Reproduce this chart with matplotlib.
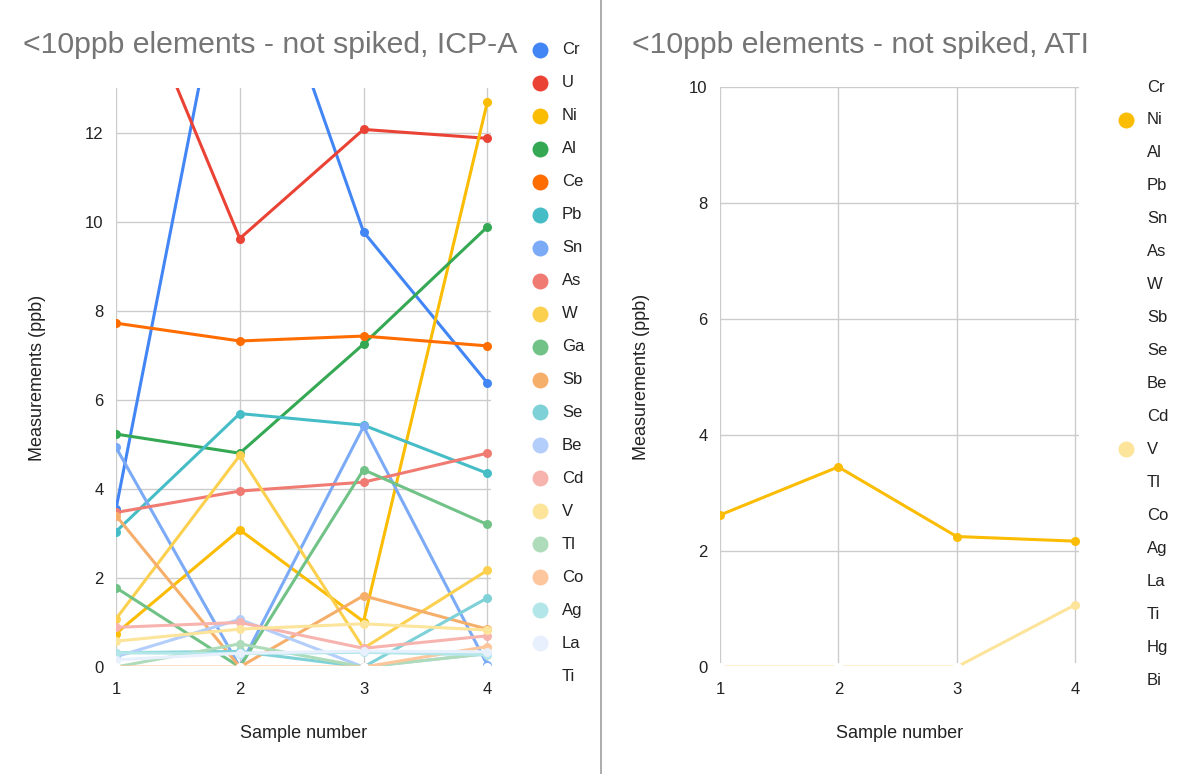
import matplotlib
matplotlib.use("Agg")
import matplotlib.pyplot as plt
from matplotlib.lines import Line2D

plt.rcParams['font.family'] = ['Liberation Sans', 'DejaVu Sans']

samples = [1, 2, 3, 4]

# ---- Left chart (ICP-A) ----
left_names = ["Cr", "U", "Ni", "Al", "Ce", "Pb", "Sn", "As", "W", "Ga",
              "Sb", "Se", "Be", "Cd", "V", "Tl", "Co", "Ag", "La", "Ti"]
Cr = [3.55, 17.7, 9.77, 6.38]
U = [16.3, 9.62, 12.07, 11.87]
Ni = [0.75, 3.08, 1.02, 12.68]
Al = [5.23, 4.80, 7.25, 9.88]
Ce = [7.72, 7.32, 7.43, 7.21]
Pb = [3.04, 5.69, 5.43, 4.35]
Sn = [4.93, 0.0, 5.40, 0.05]
As = [3.47, 3.95, 4.15, 4.80]
W = [1.08, 4.75, 0.42, 2.17]
Ga = [1.78, 0.0, 4.43, 3.20]
Sb = [3.40, 0.0, 1.60, 0.85]
Se = [0.32, 0.35, 0.0, 1.55]
Be = [0.23, 1.07, 0.0, 0.30]
Cd = [0.89, 1.00, 0.42, 0.70]
V = [0.58, 0.85, 0.97, 0.83]
Tl = [0.0, 0.52, 0.0, 0.30]
Co = [0.0, 0.0, 0.0, 0.46]
Ag = [0.32, 0.30, 0.33, 0.27]
La = [0.16, 0.31, 0.36, 0.34]
Ti = [0.0, 0.0, 0.0, 0.0]
left_values = [Cr, U, Ni, Al, Ce, Pb, Sn, As, W, Ga, Sb, Se, Be, Cd, V, Tl, Co, Ag, La, Ti]
left_colors = ["#4285F4", "#EA4335", "#FBBC04", "#34A853", "#FF6D01", "#46BDC6",
               "#7BAAF7", "#F07B72", "#FCD04F", "#71C287", "#F6AE6B", "#7ED1D7",
               "#B3CEFB", "#F7B4AE", "#FDE49B", "#AEDCBA", "#FDC69C", "#B2E6E9",
               "#E8F0FE", "#FFFFFF"]

# ---- Right chart (ATI) ----
right_names = ["Cr", "Ni", "Al", "Pb", "Sn", "As", "W", "Sb", "Se", "Be",
               "Cd", "V", "Tl", "Co", "Ag", "La", "Ti", "Hg", "Bi"]
Ni_ati = [2.62, 3.45, 2.25, 2.17]
V_ati = [0.0, 0.0, 0.0, 1.07]
zero_ati = [0.0, 0.0, 0.0, 0.0]
right_values = [Ni_ati if n == "Ni" else V_ati if n == "V" else zero_ati for n in right_names]
right_colors = ["#FBBC04" if n == "Ni" else "#FDE49B" if n == "V" else "#FFFFFF"
                for n in right_names]

W_PX, H_PX = 1200, 774
fig = plt.figure(figsize=(12, 7.74), dpi=100)


def fx(px):
    return px / W_PX


def fy(py):
    return 1 - py / H_PX


def setup(ax, ymax, yticks):
    ax.set_xlim(1, 4.03)
    ax.set_ylim(0, ymax)
    ax.set_xticks(samples)
    ax.set_yticks(yticks)
    for s in ax.spines.values():
        s.set_visible(False)
    ax.grid(True, color="#cccccc", linewidth=1.0)
    ax.set_axisbelow(True)
    ax.tick_params(length=0, labelsize=12, colors="#222222", pad=9)
    ax.tick_params(axis='x', pad=11)
    ax.set_xlabel("Sample number", fontsize=13, color="#222222", labelpad=20)
    ax.set_ylabel("Measurements (ppb)", fontsize=13, color="#222222", labelpad=28)


# left axes
axL = fig.add_axes([fx(116), fy(667), fx(491) - fx(116), fy(88) - fy(667)])
setup(axL, 13, [0, 2, 4, 6, 8, 10, 12])
for vals, c in zip(left_values, left_colors):
    axL.plot(samples, vals, color=c, lw=2.2, marker='o', ms=6.5,
             markeredgewidth=0, solid_capstyle='round')

# right axes
axR = fig.add_axes([fx(720), fy(667), fx(1078.5) - fx(720), fy(87) - fy(667)])
setup(axR, 10, [0, 2, 4, 6, 8, 10])
for vals, c in zip(right_values, right_colors):
    axR.plot(samples, vals, color=c, lw=2.2, marker='o', ms=6.5,
             markeredgewidth=0, solid_capstyle='round')

# titles
fig.text(fx(23), fy(45), "<10ppb elements - not spiked, ICP-A", fontsize=21.8,
         color="#757575", va='center', ha='left')
fig.text(fx(632), fy(45), "<10ppb elements - not spiked, ATI", fontsize=21.8,
         color="#757575", va='center', ha='left')

# legends
def legend(names, colors, x_marker, x_text, y0, dy):
    for i, (n, c) in enumerate(zip(names, colors)):
        y = y0 + dy * i
        fig.add_artist(Line2D([fx(x_marker)], [fy(y)], transform=fig.transFigure,
                              marker='o', ms=11.5, color=c, markeredgewidth=0,
                              linestyle='none'))
        fig.text(fx(x_text), fy(y), n, fontsize=12, color="#222222",
                 va='center', ha='left')


legend(left_names, left_colors, 540, 562, 50, 32.95)
legend(right_names, right_colors, 1126, 1147, 87, 32.95)

# separator line
fig.add_artist(Line2D([fx(601), fx(601)], [0, 1], transform=fig.transFigure,
                      color="#9e9e9e", lw=1.2))

fig.savefig("out.png", dpi=100, facecolor="white")
